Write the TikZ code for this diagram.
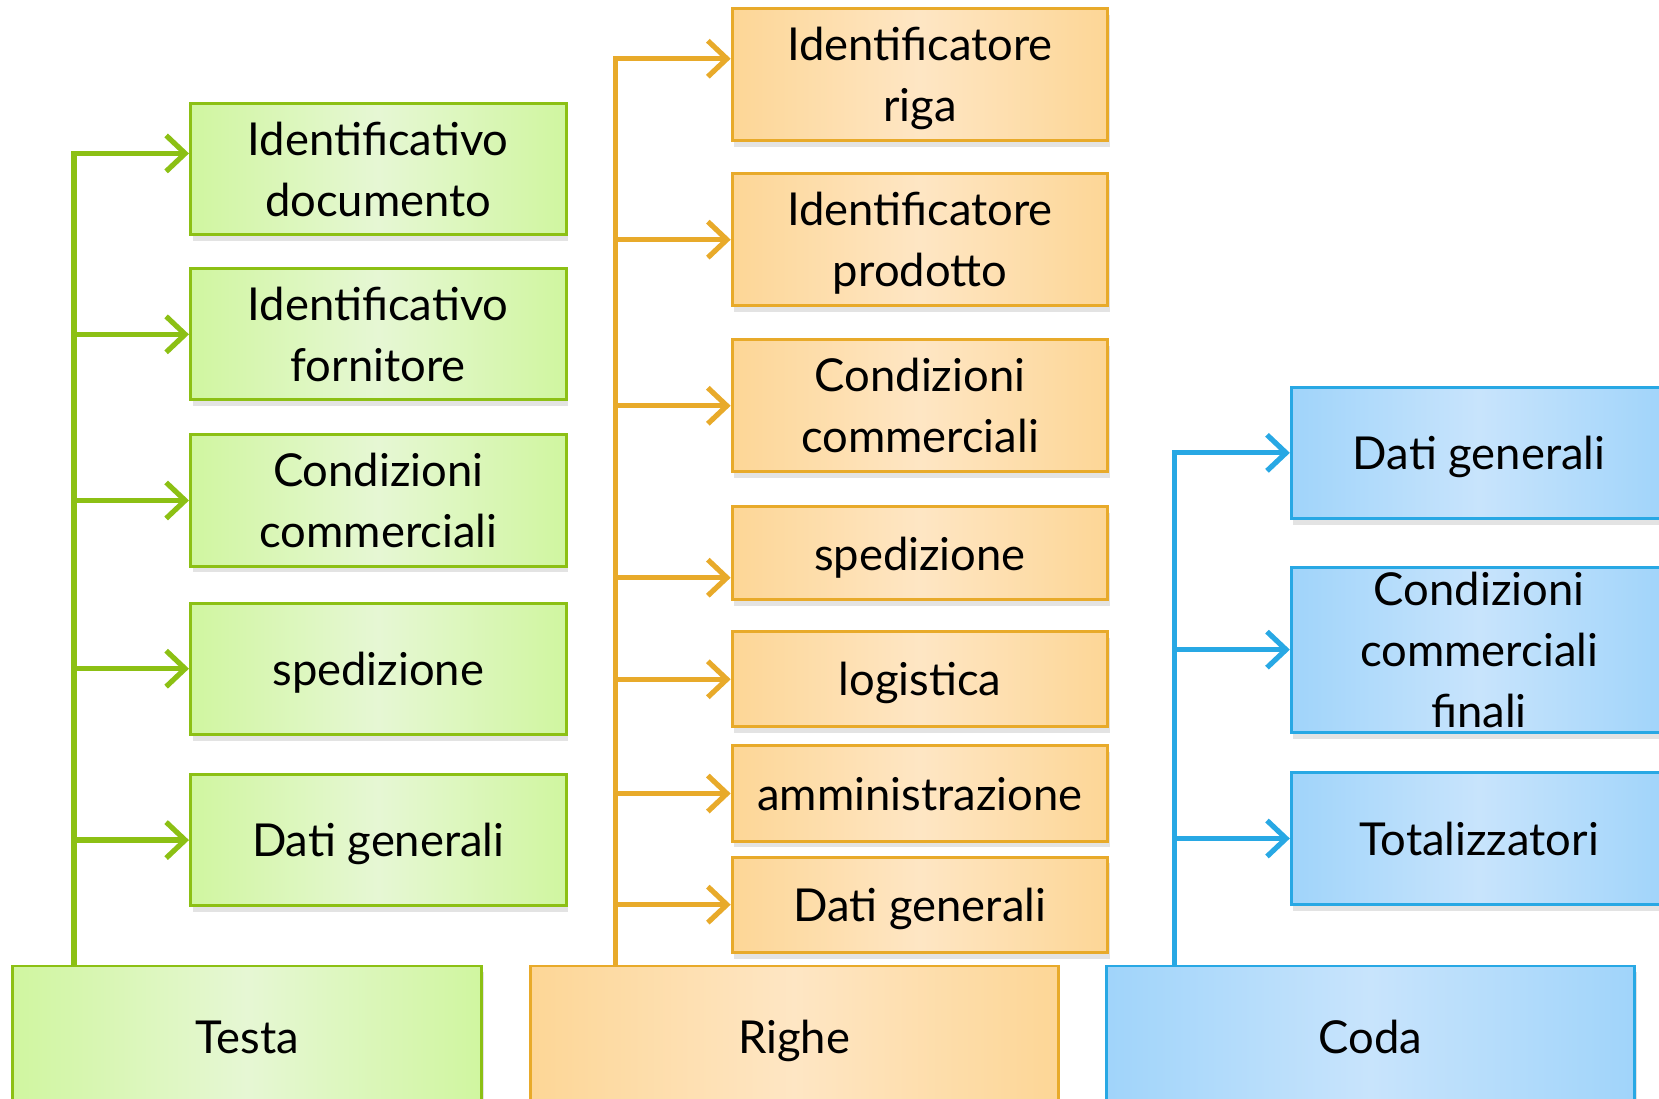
\documentclass[tikz,border=0pt]{standalone}
\usepackage{fontspec}
\setmainfont{Lato}
\usetikzlibrary{positioning,arrows.meta,shadows}
\definecolor{grline}{RGB}{140,192,20}
\definecolor{grfill}{RGB}{208,246,160}
\definecolor{grmid}{RGB}{230,247,212}
\definecolor{orline}{RGB}{232,170,42}
\definecolor{orfill}{RGB}{253,214,150}
\definecolor{ormid}{RGB}{254,230,196}
\definecolor{blline}{RGB}{40,168,228}
\definecolor{blfill}{RGB}{160,212,250}
\definecolor{blmid}{RGB}{200,228,252}
\tikzset{
  box/.style={line width=0.8pt, minimum width=35.5mm, inner sep=0pt,
    align=center, font=\fontsize{12.2}{16.4}\selectfont, text depth=-0.8mm,
    drop shadow={opacity=0.22, shadow xshift=0.2mm, shadow yshift=-0.6mm}},
  grbox/.style={box, draw=grline, left color=grfill, right color=grfill, middle color=grmid},
  orbox/.style={box, draw=orline, left color=orfill, right color=orfill, middle color=ormid},
  blbox/.style={box, draw=blline, left color=blfill, right color=blfill, middle color=blmid},
  link/.style={line width=1.4pt, -{Straight Barb[length=1.8mm,width=3.4mm,line width=1.4pt]}},
  grlink/.style={link, draw=grline},
  orlink/.style={link, draw=orline},
  bllink/.style={link, draw=blline}
}
\begin{document}
\begin{tikzpicture}[x=0.1mm, y=-0.1mm]
\clip (0,0) rectangle (1568,1038);
% bottom row: the three parts of the document
\node[grbox, minimum width=44.3mm, minimum height=13.4mm] (testa) at (233.5,980) {Testa};
\node[orbox, minimum width=49.9mm, minimum height=13.4mm] (righe) at (750.5,980) {Righe};
\node[blbox, minimum width=49.9mm, minimum height=13.4mm] (coda) at (1295.5,980) {Coda};
% Testa: green blocks
\node[grbox, minimum height=12.4mm] (g1) at (357.5,160) {Identificativo\\documento};
\node[grbox, minimum height=12.4mm] (g2) at (357.5,316) {Identificativo\\fornitore};
\node[grbox, minimum height=12.4mm] (g3) at (357.5,473) {Condizioni\\commerciali};
\node[grbox, minimum height=12.4mm] (g4) at (357.5,632) {spedizione};
\node[grbox, minimum height=12.4mm] (g5) at (357.5,794) {Dati generali};
% Righe: orange blocks
\node[orbox, minimum height=12.5mm] (o1) at (869.5,70.5) {Identificatore\\riga};
\node[orbox, minimum height=12.5mm] (o2) at (869.5,226.5) {Identificatore\\prodotto};
\node[orbox, minimum height=12.5mm] (o3) at (869.5,383.5) {Condizioni\\commerciali};
\node[orbox, minimum height=8.8mm] (o4) at (869.5,523) {spedizione};
\node[orbox, minimum height=9mm] (o5) at (869.5,642) {logistica};
\node[orbox, minimum height=9mm] (o6) at (869.5,750) {amministrazione};
\node[orbox, minimum height=9mm] (o7) at (869.5,855) {Dati generali};
% Coda: blue blocks
\node[blbox, minimum height=12.4mm] (b1) at (1398,428) {Dati generali};
\node[blbox, minimum height=15.6mm] (b2) at (1398,614) {Condizioni\\commerciali\\finali};
\node[blbox, minimum height=12.5mm] (b3) at (1398,792.5) {Totalizzatori};
% trunks and branches
\coordinate (gtrunk) at (70,0);
\coordinate (otrunk) at (582,0);
\coordinate (btrunk) at (1110,0);
\draw[grlink] (testa.north -| gtrunk) |- ([yshift=1.5mm]g1.west);
\foreach \n in {g2,g3,g4,g5}
  \draw[grlink] (gtrunk |- \n.west) -- (\n.west);
\draw[orlink] (righe.north -| otrunk) |- ([yshift=1.5mm]o1.west);
\draw[orlink] (otrunk |- o4.west) ++(0,23) coordinate (o4in) -- (o4in -| o4.west);
\foreach \n in {o2,o3,o5,o6,o7}
  \draw[orlink] (otrunk |- \n.west) -- (\n.west);
\draw[bllink] (coda.north -| btrunk) |- (b1.west);
\foreach \n in {b2,b3}
  \draw[bllink] (btrunk |- \n.west) -- (\n.west);
\end{tikzpicture}
\end{document}
